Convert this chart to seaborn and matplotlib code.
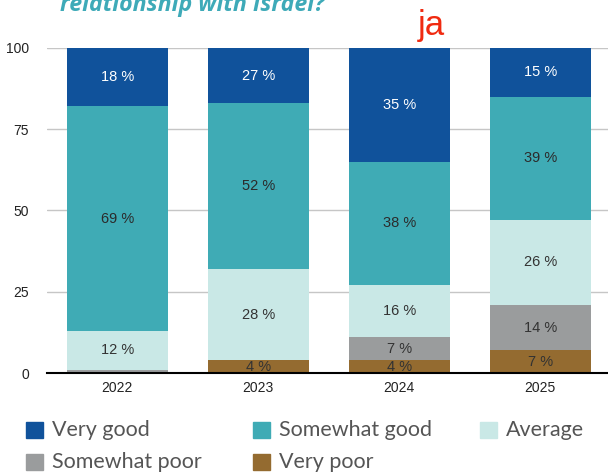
import matplotlib
matplotlib.use("Agg")
import matplotlib.pyplot as plt
from matplotlib.patches import Rectangle
import seaborn as sns
import pandas as pd

# data (bar heights) and the printed labels
years = ["2022", "2023", "2024", "2025"]
categories = ["Very poor", "Somewhat poor", "Average", "Somewhat good", "Very good"]
very_poor = [0, 4, 4, 7]
somewhat_poor = [1, 0, 7, 14]
average = [12, 28, 16, 26]
somewhat_good = [69, 51, 38, 38]
very_good = [18, 17, 35, 15]
labels_very_poor = ["", "4 %", "4 %", "7 %"]
labels_somewhat_poor = ["", "", "7 %", "14 %"]
labels_average = ["12 %", "28 %", "16 %", "26 %"]
labels_somewhat_good = ["69 %", "52 %", "38 %", "39 %"]
labels_very_good = ["18 %", "27 %", "35 %", "15 %"]

colors = {
    "Very good": "#10529B",
    "Somewhat good": "#3FABB5",
    "Average": "#C9E8E6",
    "Somewhat poor": "#9A9C9D",
    "Very poor": "#946B30",
}
text_colors = {
    "Very good": "white",
    "Somewhat good": "#2b2b2b",
    "Average": "#333333",
    "Somewhat poor": "#333333",
    "Very poor": "#333333",
}

values = [very_poor, somewhat_poor, average, somewhat_good, very_good]
labels = [labels_very_poor, labels_somewhat_poor, labels_average,
          labels_somewhat_good, labels_very_good]

sns.set_style("white")
plt.rcParams["font.family"] = ["Liberation Sans", "DejaVu Sans"]

fig = plt.figure(figsize=(6.08, 4.74), dpi=100)
ax = fig.add_axes([0.077, 0.213, 0.923, 0.686])

# stacked bars: draw cumulative totals, lower layers drawn in front
bottom = [0, 0, 0, 0]
for cat, vals, labs in zip(categories, values, labels):
    tops = [b + v for b, v in zip(bottom, vals)]
    df = pd.DataFrame({"year": years, "top": tops})
    sns.barplot(data=df, x="year", y="top", color=colors[cat], width=0.716,
                saturation=1, linewidth=0, ax=ax)
    for i, (b, v, lab) in enumerate(zip(bottom, vals, labs)):
        if lab:
            ax.text(i, b + v / 2, lab, ha="center", va="center",
                    fontsize=10.5, color=text_colors[cat], zorder=20)
    bottom = tops

for k, cont in enumerate(ax.containers):
    for p in cont:
        p.set_zorder(10 - k)
        p.set_edgecolor("none")

ax.set_xlim(-0.5, 3.48)
ax.set_ylim(0, 100)
ax.set_yticks([0, 25, 50, 75, 100])
ax.set_xlabel("")
ax.set_ylabel("")
ax.tick_params(axis="both", labelsize=10, colors="#222222", length=0)
ax.tick_params(axis="y", pad=13)
ax.tick_params(axis="x", pad=6)
ax.yaxis.grid(True, color="#C6C6C6", linewidth=1)
ax.set_axisbelow(True)
for s in ["left", "right", "top"]:
    ax.spines[s].set_visible(False)
ax.spines["bottom"].set_color("black")
ax.spines["bottom"].set_linewidth(1.5)
ax.spines["bottom"].set_zorder(30)

# cut-off title and the red note
fig.text(0.099, 0.977, "relationship with Israel?", fontsize=16.7, fontweight="bold",
         style="italic", color="#3EAAB8", va="baseline", ha="left",
         family=["Open Sans", "DejaVu Sans"])
fig.text(0.709, 0.926, "ja", fontsize=25, color="#F02A10", ha="center", va="baseline")

# legend laid out as in the picture
legend_items = [
    ("Very good", 26, 430), ("Somewhat good", 253, 430), ("Average", 480, 430),
    ("Somewhat poor", 26, 461.5), ("Very poor", 253, 461.5),
]
W, H = 608, 474
for name, x, y in legend_items:
    fig.patches.append(Rectangle((x / W, (H - y - 8) / H), 17 / W, 16 / H,
                                 transform=fig.transFigure, color=colors[name]))
    fig.text((x + 26) / W, (H - y) / H, name, fontsize=15.5, color="#555555",
             va="center", ha="left", family=["Lato", "DejaVu Sans"])

fig.savefig("out.png", dpi=100)
